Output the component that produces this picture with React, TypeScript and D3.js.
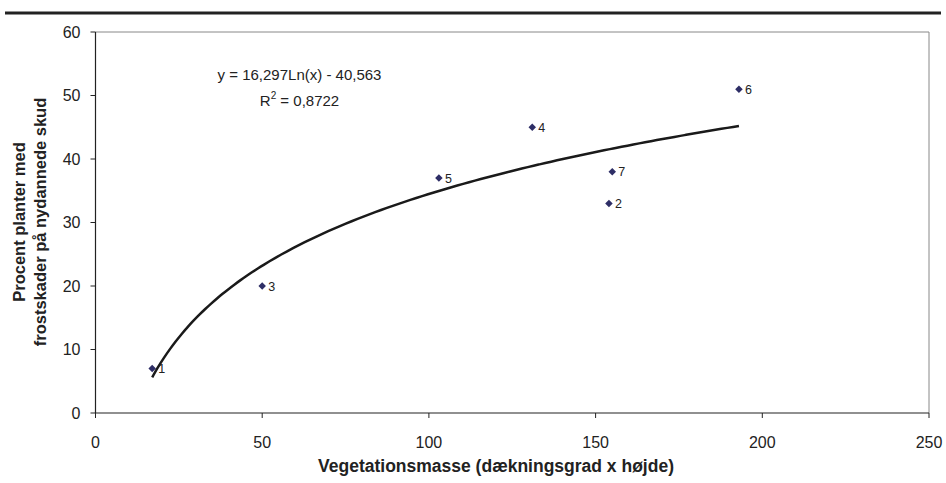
import React from "react";
import * as d3 from "d3";

const labels = ["1", "2", "3", "4", "5", "6", "7"];
const xValues = [17, 154, 50, 131, 103, 193, 155];
const yValues = [7, 33, 20, 45, 37, 51, 38];
const xTicks = [0, 50, 100, 150, 200, 250];
const yTicks = [0, 10, 20, 30, 40, 50, 60];
// logarithmic trendline: y = a*ln(x) + b
const trendA = 16.297;
const trendB = -40.563;

const W = 946;
const H = 483;
const margin = { top: 32, right: 17, bottom: 70, left: 95.5 };

export default function App() {
  const iw = W - margin.left - margin.right;
  const ih = H - margin.top - margin.bottom;

  const x = d3.scaleLinear().domain([0, 250]).range([0, iw]);
  const y = d3.scaleLinear().domain([0, 60]).range([ih, 0]);

  const xMin = d3.min(xValues) as number;
  const xMax = d3.max(xValues) as number;
  const trendPts = d3.range(0, 101).map(i => {
    const xv = xMin + ((xMax - xMin) * i) / 100;
    return [xv, trendA * Math.log(xv) + trendB] as [number, number];
  });
  const line = d3
    .line<[number, number]>()
    .x(d => x(d[0]))
    .y(d => y(d[1]))
    .curve(d3.curveMonotoneX);

  const diamond = d3.symbol().type(d3.symbolDiamond2).size(36)();

  const font = "Liberation Sans, Arial, sans-serif";

  return (
    <svg
      width={W}
      height={H}
      style={{ position: "absolute", left: 0, top: 0 }}
      fontFamily={font}
    >
      <rect width={W} height={H} fill="#fff" />
      <line x1={5} x2={941} y1={13} y2={13} stroke="#222" strokeWidth={3} />
      <g transform={`translate(${margin.left},${margin.top})`}>
        {/* frame */}
        <line x1={0} x2={iw} y1={0} y2={0} stroke="#888" strokeWidth={1} />
        <line x1={iw} x2={iw} y1={0} y2={ih} stroke="#888" strokeWidth={1} />
        <line x1={0} x2={0} y1={0} y2={ih} stroke="#222" strokeWidth={1.2} />
        <line x1={0} x2={iw} y1={ih} y2={ih} stroke="#222" strokeWidth={1.2} />

        {/* y axis */}
        {yTicks.map(t => (
          <g key={t} transform={`translate(0,${y(t)})`}>
            <line x1={-5} x2={0} stroke="#222" />
            <text x={-15} y={5.5} textAnchor="end" fontSize={16} fill="#222">
              {t}
            </text>
          </g>
        ))}

        {/* x axis */}
        {xTicks.map(t => (
          <g key={t} transform={`translate(${x(t)},${ih})`}>
            <line y1={0} y2={5} stroke="#222" />
            <text y={35} textAnchor="middle" fontSize={16} fill="#222">
              {t}
            </text>
          </g>
        ))}

        {/* trendline */}
        <path d={line(trendPts) || ""} fill="none" stroke="#1a1a1a" strokeWidth={2.5} />

        {/* points */}
        {xValues.map((xv, i) => (
          <g key={i} transform={`translate(${x(xv)},${y(yValues[i])})`}>
            <path d={diamond || ""} fill="#2e2e66" />
            <text x={6} y={4.5} fontSize={12.5} fill="#222">
              {labels[i]}
            </text>
          </g>
        ))}

        {/* equation */}
        <text x={204} y={48} textAnchor="middle" fontSize={15} fill="#222">
          y = 16,297Ln(x) - 40,563
        </text>
        <text x={204} y={74} textAnchor="middle" fontSize={15} fill="#222">
          R<tspan dy={-7} fontSize={10}>2</tspan>
          <tspan dy={7}> = 0,8722</tspan>
        </text>
      </g>

      {/* axis titles */}
      <text
        x={496}
        y={472}
        textAnchor="middle"
        fontSize={17.5}
        fontWeight="bold"
        fill="#222"
      >
        Vegetationsmasse (dækningsgrad x højde)
      </text>
      <g transform={`translate(0,222) rotate(-90)`}>
        <text x={0} y={25} textAnchor="middle" fontSize={16.5} fontWeight="bold" fill="#222">
          Procent planter med
        </text>
        <text x={0} y={46} textAnchor="middle" fontSize={16.5} fontWeight="bold" fill="#222">
          frostskader på nydannede skud
        </text>
      </g>
    </svg>
  );
}
